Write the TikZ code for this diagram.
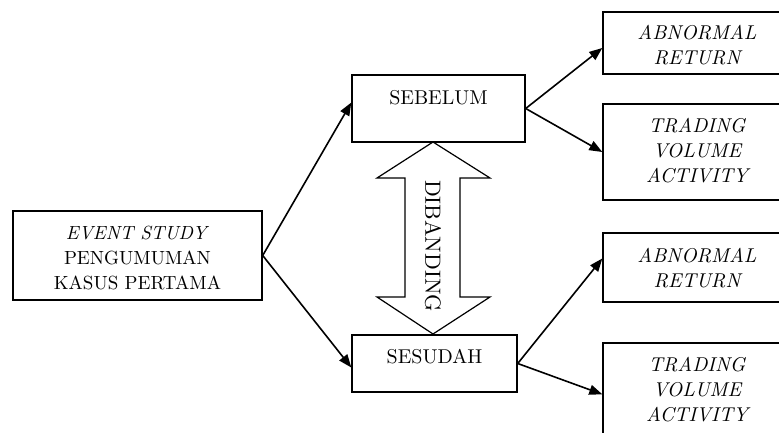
\documentclass[tikz,border=0pt]{standalone}
\usepackage{fontspec}
\setmainfont{lmroman10-regular.otf}[ItalicFont=lmroman10-italic.otf]
\usetikzlibrary{arrows.meta}
\begin{document}
\begin{tikzpicture}[x=1pt,y=-1pt,
  box/.style={draw,line width=1.4pt,rectangle,inner sep=0pt},
  txt/.style={align=center,font=\fontsize{20}{25}\selectfont,inner sep=0pt},
  itxt/.style={align=center,font=\fontsize{20}{25}\selectfont\itshape,inner sep=0pt},
  conn/.style={line width=1.6pt,-{Triangle[length=13pt,width=10pt]}}]
\useasboundingbox (0,0) rectangle (779,433);
\clip (0,0) rectangle (779,433);
% left box
\node[box,minimum width=249pt,minimum height=89pt] (lb) at (137.5,255.5) {};
\node[txt,font=\fontsize{19}{25}\selectfont] (lbt) at (137.5,258) {\textit{EVENT STUDY}\\PENGUMUMAN\\KASUS PERTAMA};
% middle boxes
\node[box,minimum width=173pt,minimum height=67pt] (seb) at (438.5,108.5) {};
\node[txt] (sebt) at (438.5,98) {SEBELUM};
\node[box,minimum width=165pt,minimum height=57pt] (ses) at (434.5,363.5) {};
\node[txt] (sest) at (434.5,357) {SESUDAH};
% right boxes
\node[box,minimum width=188pt,minimum height=62pt] (r1) at (697,43) {};
\node[itxt] (r1t) at (697,45) {ABNORMAL\\RETURN};
\node[box,minimum width=188pt,minimum height=96pt] (r2) at (697,152) {};
\node[itxt] (r2t) at (697,151) {TRADING\\VOLUME\\ACTIVITY};
\node[box,minimum width=188pt,minimum height=69pt] (r3) at (697,267.5) {};
\node[itxt] (r3t) at (697,268.5) {ABNORMAL\\RETURN};
\node[box,minimum width=188pt,minimum height=100pt] (r4) at (697,393) {};
\node[itxt] (r4t) at (697,390) {TRADING\\VOLUME\\ACTIVITY};
% connectors
\draw[conn] (lb.east) -- ([yshift=6pt]seb.west);
\draw[conn] (lb.east) -- ([yshift=-4pt]ses.west);
\draw[conn] (seb.east) -- ([yshift=-5pt]r1.west);
\draw[conn] (seb.east) -- (r2.west);
\draw[conn] (ses.east) -- ([yshift=9pt]r3.west);
\draw[conn] (ses.east) -- ([yshift=-52pt]r4.north west);
% double arrow
\draw[line width=1.2pt,fill=white,line join=miter]
  (433,142) -- (490,178) -- (460,178) -- (460,297) -- (490,297) -- (433,334)
  -- (377,297) -- (405,297) -- (405,178) -- (377,178) -- cycle;
\node[txt,rotate=-90,font=\fontsize{22}{25}\selectfont] (dib) at (433,246) {DIBANDING};
\end{tikzpicture}
\end{document}
